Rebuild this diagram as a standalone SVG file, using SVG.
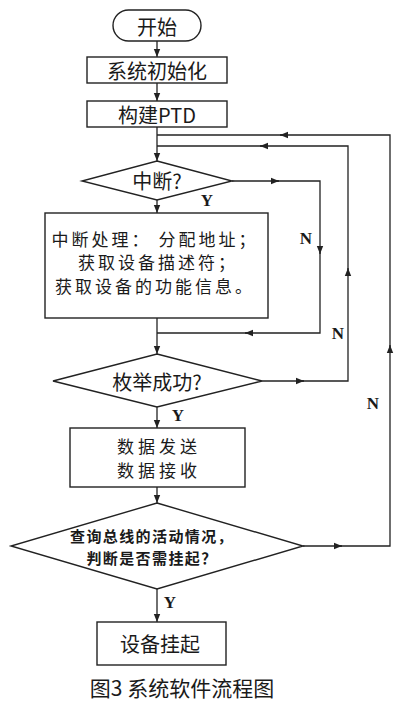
<svg xmlns="http://www.w3.org/2000/svg" width="408" height="704" viewBox="0 0 408 704">
<style>
.s{fill:#fff;stroke:#222;stroke-width:1.4}
.c{fill:none;stroke:#222;stroke-width:1.3}
.t{font-family:"Noto Sans CJK SC","Liberation Serif",serif;font-size:20px;fill:#1a1a1a;text-anchor:middle;dominant-baseline:central}
.m{font-size:17px;letter-spacing:3px}
.q{font-size:15px;font-weight:bold;letter-spacing:1.4px}
.l{font-family:"Liberation Serif",serif;font-size:17px;font-weight:bold;fill:#1a1a1a;text-anchor:middle;dominant-baseline:central}
</style>
<defs>
<marker id="ah" viewBox="0 0 10 10" refX="10" refY="5" markerWidth="8" markerHeight="8" markerUnits="userSpaceOnUse" orient="auto">
<path d="M0,1 L10,5 L0,9 Z" fill="#222"/>
</marker>
</defs>
<rect width="408" height="704" fill="#fff"/>
<g id="connectors">
<path class="c" d="M157,41 V57" marker-end="url(#ah)"/>
<path class="c" d="M157,83 V101" marker-end="url(#ah)"/>
<path class="c" d="M157,127 V161" marker-end="url(#ah)"/>
<path class="c" d="M303,546 H342" marker-end="url(#ah)"/>
<path class="c" d="M340,546 H390 V345" marker-end="url(#ah)"/>
<path class="c" d="M390,347 V135 H280" marker-end="url(#ah)"/>
<path class="c" d="M282,135 H157"/>
<path class="c" d="M262,381 H304" marker-end="url(#ah)"/>
<path class="c" d="M302,381 H348 V268" marker-end="url(#ah)"/>
<path class="c" d="M348,270 V146 H260" marker-end="url(#ah)"/>
<path class="c" d="M262,146 H157"/>
<path class="c" d="M232,181 H279" marker-end="url(#ah)"/>
<path class="c" d="M277,181 H320 V254" marker-end="url(#ah)"/>
<path class="c" d="M320,252 V333 H245" marker-end="url(#ah)"/>
<path class="c" d="M247,333 H157"/>
<path class="c" d="M157,200 V213" marker-end="url(#ah)"/>
<path class="c" d="M157,318 V354" marker-end="url(#ah)"/>
<path class="c" d="M157,407 V428" marker-end="url(#ah)"/>
<path class="c" d="M157,487 V503" marker-end="url(#ah)"/>
<path class="c" d="M157,589 V622" marker-end="url(#ah)"/>
<text class="l" x="207" y="200">Y</text>
<text class="l" x="306" y="238">N</text>
<text class="l" x="338" y="333">N</text>
<text class="l" x="178" y="415">Y</text>
<text class="l" x="373" y="403">N</text>
<text class="l" x="170" y="602">Y</text>
</g>
<g id="start">
<rect class="s" x="113" y="10" width="88" height="31" rx="15.5"/>
<text class="t" x="157" y="26">开始</text>
</g>
<g id="init">
<rect class="s" x="87" y="57" width="140" height="26"/>
<text class="t" x="157" y="70">系统初始化</text>
</g>
<g id="ptd">
<rect class="s" x="87" y="101" width="140" height="26"/>
<text class="t" x="157" y="114">构建PTD</text>
</g>
<g id="interrupt">
<polygon class="s" points="157,161 232,181 157,200 82,181"/>
<text class="t" x="157" y="180">中断?</text>
</g>
<g id="handle">
<rect class="s" x="45" y="213" width="223" height="105"/>
<text class="t m" x="155" y="238">中断处理： 分配地址；</text>
<text class="t m" x="158" y="261">获取设备描述符；</text>
<text class="t m" x="155" y="285">获取设备的功能信息。</text>
</g>
<g id="enum">
<polygon class="s" points="157,354 262,381 157,407 53,381"/>
<text class="t" x="157" y="381">枚举成功?</text>
</g>
<g id="data">
<rect class="s" x="70" y="428" width="175" height="59"/>
<text class="t m" x="159" y="445" style="letter-spacing:4px">数据发送</text>
<text class="t m" x="159" y="469" style="letter-spacing:4px">数据接收</text>
</g>
<g id="query">
<polygon class="s" points="157,503 303,546 157,589 11,546"/>
<text class="t q" x="152" y="535">查询总线的活动情况，</text>
<text class="t q" x="152" y="557">判断是否需挂起？</text>
</g>
<g id="suspend">
<rect class="s" x="97" y="622" width="129" height="43"/>
<text class="t" x="160" y="643">设备挂起</text>
</g>
<text class="t" x="182" y="687" style="font-size:21px">图3 系统软件流程图</text>
</svg>
